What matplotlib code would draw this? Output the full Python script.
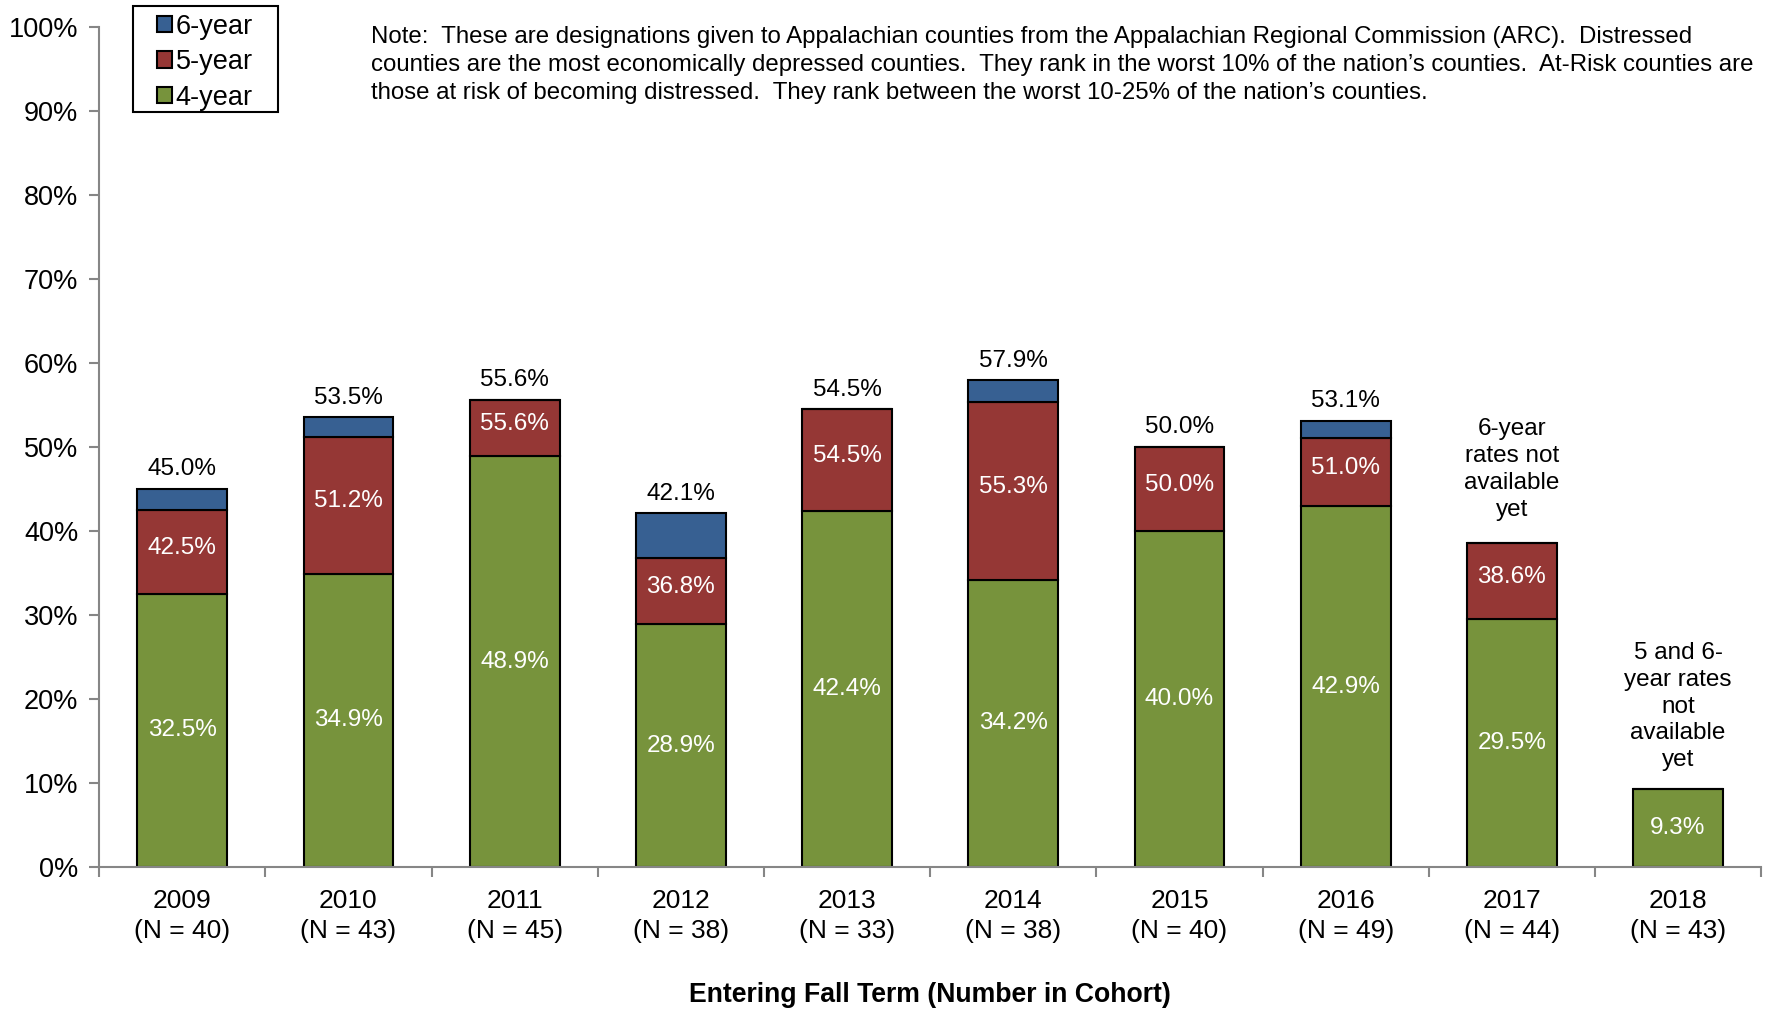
import matplotlib.pyplot as plt
from matplotlib.patches import Rectangle
import numpy as np

plt.rcParams['font.family'] = ['Liberation Sans', 'DejaVu Sans']

years = ['2009', '2010', '2011', '2012', '2013', '2014', '2015', '2016', '2017', '2018']
cohort_n = [40, 43, 45, 38, 33, 38, 40, 49, 44, 43]

# cumulative graduation rates (%)
rate_4yr = [32.5, 34.9, 48.9, 28.9, 42.4, 34.2, 40.0, 42.9, 29.5, 9.3]
rate_5yr = [42.5, 51.2, 55.6, 36.8, 54.5, 55.3, 50.0, 51.0, 38.6, np.nan]
rate_6yr = [45.0, 53.5, 55.6, 42.1, 54.5, 57.9, 50.0, 53.1, np.nan, np.nan]

note = ("Note:  These are designations given to Appalachian counties from the Appalachian Regional Commission (ARC).  Distressed\n"
        "counties are the most economically depressed counties.  They rank in the worst 10% of the nation\u2019s counties.  At-Risk counties are\n"
        "those at risk of becoming distressed.  They rank between the worst 10-25% of the nation\u2019s counties.")

c4, c5, c6 = '#77933C', '#953735', '#376092'

fig = plt.figure(figsize=(17.7, 10.1), dpi=100)
ax = fig.add_axes([0.056, 0.1416, 0.939, 0.832])

x = np.arange(len(years))
w = 0.54
r4 = np.array(rate_4yr)
r5 = np.array(rate_5yr)
r6 = np.array(rate_6yr)

seg5 = np.nan_to_num(r5 - r4)
seg6 = np.nan_to_num(r6 - r5)

ax.bar(x, r4, w, color=c4, edgecolor='black', linewidth=1.5, label='4-year', zorder=2)
ax.bar(x, seg5, w, bottom=r4, color=c5, edgecolor='black', linewidth=1.5, label='5-year', zorder=2)
ax.bar(x, seg6, w, bottom=np.nan_to_num(r5), color=c6, edgecolor='black', linewidth=1.5, label='6-year', zorder=2)

for i in range(len(years)):
    ax.text(x[i], r4[i] / 2, f'{r4[i]:.1f}%', ha='center', va='center', color='white', fontsize=17.5)
    if not np.isnan(r5[i]):
        ax.text(x[i], (r4[i] + r5[i]) / 2 + 0.5, f'{r5[i]:.1f}%', ha='center', va='center',
                color='white', fontsize=17.5)
    if not np.isnan(r6[i]):
        ax.text(x[i], r6[i] + 1.0, f'{r6[i]:.1f}%', ha='center', va='bottom', color='black', fontsize=17.5)

ax.text(x[8], r5[8] + 2.6, '6-year\nrates not\navailable\nyet', ha='center', va='bottom',
        fontsize=17.5, linespacing=1.28)
ax.text(x[9], r4[9] + 2.1, '5 and 6-\nyear rates\nnot\navailable\nyet', ha='center', va='bottom',
        fontsize=17.5, linespacing=1.28)

ax.set_xlim(-0.5, len(years) - 0.5)
ax.set_ylim(0, 100)
ax.set_yticks(np.arange(0, 101, 10))
ax.set_yticklabels([f'{v}%' for v in range(0, 101, 10)], fontsize=19.5)

ax.set_xticks(x)
ax.set_xticklabels([f'{y}\n(N = {n})' for y, n in zip(years, cohort_n)], fontsize=19, linespacing=1.3)
ax.set_xticks(np.arange(-0.5, len(years)), minor=True)
ax.tick_params(axis='x', which='major', length=0, pad=16)
ax.tick_params(axis='x', which='minor', length=7, color='#868686', width=1.5, direction='out')
ax.tick_params(axis='y', length=7, color='#868686', width=1.5, direction='out', pad=8)

for s in ['top', 'right']:
    ax.spines[s].set_visible(False)
ax.spines['left'].set_color('#868686')
ax.spines['bottom'].set_color('#868686')
ax.spines['left'].set_linewidth(1.5)
ax.spines['bottom'].set_linewidth(1.5)

ax.set_xlabel('Entering Fall Term (Number in Cohort)', fontsize=19.2, fontweight='bold', labelpad=28)

# legend without frame, then a separate box with wider side padding
handles, labels = ax.get_legend_handles_labels()
leg = fig.legend(handles[::-1], labels[::-1], loc='upper left', bbox_to_anchor=(0.0885, 0.9865),
                 fontsize=19.5, frameon=False,
                 handlelength=0.55, handleheight=0.55, handletextpad=0.15, borderpad=0,
                 labelspacing=0.35, borderaxespad=0)
fig.patches.append(Rectangle((0.0751, 0.889), 0.0819, 0.105, transform=fig.transFigure,
                             fill=False, edgecolor='black', linewidth=1.5))

fig.text(0.2095, 0.974, note, ha='left', va='top', fontsize=17.25, linespacing=1.34)

fig.savefig('out.png', dpi=100)
